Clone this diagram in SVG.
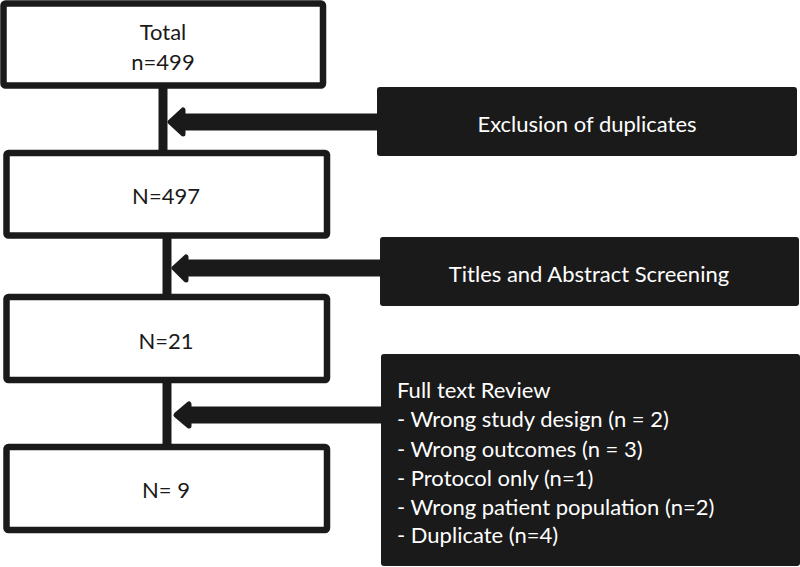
<svg xmlns="http://www.w3.org/2000/svg" width="800" height="567" viewBox="0 0 800 567">
<style>
.box{fill:#fff;stroke:#1a1a1a;stroke-width:6.5;}
.dark{fill:#1a1a1a;}
.t{font-family:Lato,"Open Sans","Liberation Sans",sans-serif;font-size:22px;fill:#1a1a1a;text-anchor:middle;}
.w{font-family:Lato,"Open Sans","Liberation Sans",sans-serif;font-size:22px;fill:#fff;}
.line{stroke:#1a1a1a;stroke-width:9;fill:none;}
.shaft{stroke:#1a1a1a;stroke-width:17;fill:none;}
.head{fill:#1a1a1a;stroke:#1a1a1a;stroke-width:5;stroke-linejoin:round;}
</style>
<rect width="800" height="567" fill="#fff"/>
<g id="connectors">
<line class="line" x1="163" y1="86" x2="163" y2="153"/>
<line class="line" x1="167" y1="236" x2="167" y2="297"/>
<line class="line" x1="167" y1="380" x2="167" y2="447"/>
<line class="shaft" x1="182" y1="122" x2="380" y2="122"/>
<path class="head" d="M170,122 L183,110 L183,134 Z"/>
<line class="shaft" x1="185" y1="268" x2="383" y2="268"/>
<path class="head" d="M174,268 L186,257 L186,280 Z"/>
<line class="shaft" x1="188" y1="415" x2="384" y2="415"/>
<path class="head" d="M176,415 L189,404 L189,426 Z"/>
</g>
<g id="n1">
<rect class="box" x="3.5" y="3.5" width="319.5" height="82" rx="2"/>
<text class="t" x="163" y="40">Total</text>
<text class="t" x="163" y="70">n=499</text>
</g>
<g id="n2">
<rect class="box" x="6.5" y="153" width="320.5" height="82.5" rx="2"/>
<text class="t" x="166" y="204">N=497</text>
</g>
<g id="n3">
<rect class="box" x="6.5" y="297" width="320.5" height="83" rx="2"/>
<text class="t" x="166" y="349">N=21</text>
</g>
<g id="n4">
<rect class="box" x="6.5" y="447" width="320.5" height="83" rx="2"/>
<text class="t" x="166" y="498">N= 9</text>
</g>
<g id="e1">
<rect class="dark" x="377" y="87" width="420" height="69" rx="3"/>
<text class="w" x="587" y="132" text-anchor="middle">Exclusion of duplicates</text>
</g>
<g id="e2">
<rect class="dark" x="380" y="237" width="419" height="69" rx="3"/>
<text class="w" x="589" y="282" text-anchor="middle">Titles and Abstract Screening</text>
</g>
<g id="e3">
<rect class="dark" x="381" y="354" width="419" height="212" rx="3"/>
<text class="w" x="397" y="398">Full text Review</text>
<text class="w" x="397" y="427">- Wrong study design (n = 2)</text>
<text class="w" x="397" y="457">- Wrong outcomes (n = 3)</text>
<text class="w" x="397" y="486">- Protocol only (n=1)</text>
<text class="w" x="397" y="515">- Wrong patient population (n=2)</text>
<text class="w" x="397" y="543">- Duplicate (n=4)</text>
</g>
</svg>
